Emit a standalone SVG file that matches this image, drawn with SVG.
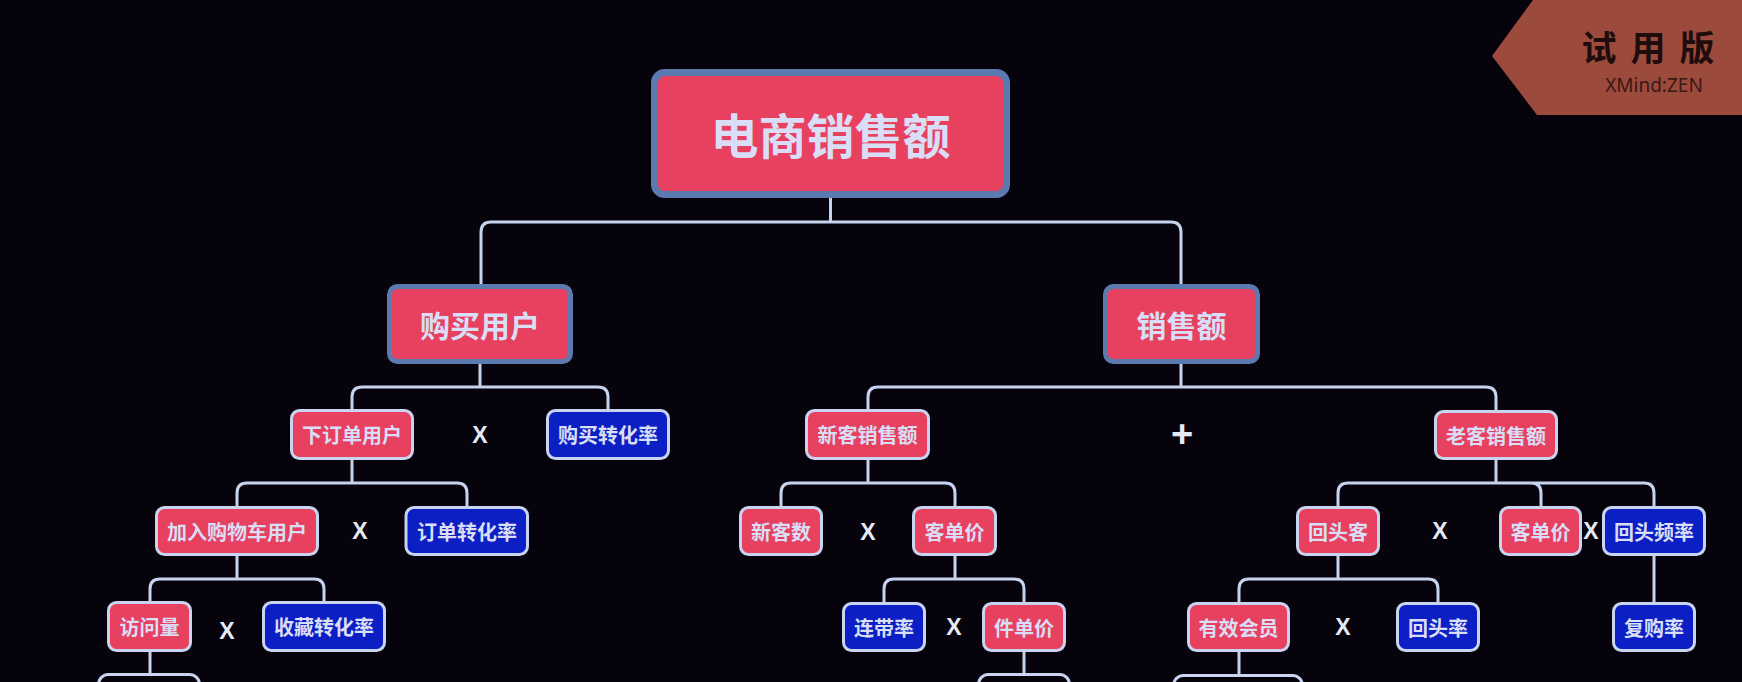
<svg xmlns="http://www.w3.org/2000/svg" width="1742" height="682" viewBox="0 0 1742 682">
<style>
.t{font-family:"Noto Sans CJK SC","Noto Sans",sans-serif;font-weight:bold;fill:#d9def6;text-anchor:middle;dominant-baseline:central}
.red{fill:#e8405f}
.blue{fill:#0b1fc4}
.sm{stroke:#c9d4f0;stroke-width:3}
.big{stroke:#5a7ab0}
.ts{font-size:20px}
.op{font-family:"Liberation Sans","DejaVu Sans",sans-serif;font-weight:bold;fill:#e6e9f6;text-anchor:middle;dominant-baseline:central;font-size:23px}
.cn{fill:none;stroke:#c5d3ee;stroke-width:3}
</style>
<rect width="1742" height="682" fill="#07030c"/>
<g id="watermark">
<polygon points="1533,0 1742,0 1742,115 1537,115 1492,56" fill="#9c4a3c"/>
<text x="1655" y="45" font-family="Noto Sans CJK SC,sans-serif" font-weight="bold" font-size="35" fill="#1e0d0c" text-anchor="middle" dominant-baseline="central" letter-spacing="14">试用版</text>
<text x="1654" y="85" font-family="Noto Sans,sans-serif" font-size="19" fill="#3b1814" text-anchor="middle" dominant-baseline="central">XMind:ZEN</text>
</g>
<g id="connectors">
<path class="cn" d="M830.5 198V222M481 284V232Q481 222 491 222H1171Q1181 222 1181 232V284"/>
<path class="cn" d="M480 364V387M352 409V397Q352 387 362 387H598Q608 387 608 397V409"/>
<path class="cn" d="M352 460V483M237 506V493Q237 483 247 483H457Q467 483 467 493V506"/>
<path class="cn" d="M237 556V579M150 601V589Q150 579 160 579H314Q324 579 324 589V601"/>
<path class="cn" d="M150 652V674"/>
<path class="cn" d="M1181 364V387M868 409V397Q868 387 878 387H1486Q1496 387 1496 397V410"/>
<path class="cn" d="M868 460V483M781 506V493Q781 483 791 483H945Q955 483 955 493V506"/>
<path class="cn" d="M955 556V579M884 602V589Q884 579 894 579H1014Q1024 579 1024 589V602"/>
<path class="cn" d="M1024 652V674"/>
<path class="cn" d="M1496 460V483M1338 506V493Q1338 483 1348 483H1644Q1654 483 1654 493V506M1531 483Q1541 483 1541 493V506"/>
<path class="cn" d="M1338 556V579M1239 602V589Q1239 579 1249 579H1428Q1438 579 1438 589V602"/>
<path class="cn" d="M1239 652V675"/>
<path class="cn" d="M1654 556V602"/>
</g>
<g id="root">
<rect class="red big" x="654.5" y="72.5" width="352" height="122" rx="10" stroke-width="7"/>
<text class="t" x="830.5" y="133" font-size="48">电商销售额</text>
</g>
<g id="n-goumaiyonghu">
<rect class="red big" x="389.5" y="286.5" width="181" height="75" rx="8" stroke-width="5"/>
<text class="t" x="480" y="324" font-size="30">购买用户</text>
</g>
<g id="n-xiaoshoue">
<rect class="red big" x="1105.5" y="286.5" width="152" height="75" rx="8" stroke-width="5"/>
<text class="t" x="1181.5" y="324" font-size="30">销售额</text>
</g>
<g id="n-xiadingdan">
<rect class="red sm" x="291.5" y="410.5" width="121" height="48" rx="8"/>
<text class="t ts" x="352" y="434.5">下订单用户</text>
</g>
<g id="op1"><text class="op" x="480" y="435">X</text></g>
<g id="n-goumaizhuanhua">
<rect class="blue sm" x="547.5" y="410.5" width="121" height="48" rx="8"/>
<text class="t ts" x="608" y="434.5">购买转化率</text>
</g>
<g id="n-jiaru">
<rect class="red sm" x="156.5" y="507.5" width="161" height="47" rx="8"/>
<text class="t ts" x="237" y="531">加入购物车用户</text>
</g>
<g id="op2"><text class="op" x="360" y="531">X</text></g>
<g id="n-dingdanzhuanhua">
<rect class="blue sm" x="406" y="507.5" width="121.5" height="47" rx="8"/>
<text class="t ts" x="467" y="531">订单转化率</text>
</g>
<g id="n-fangwen">
<rect class="red sm" x="108.5" y="602.5" width="82" height="48" rx="8"/>
<text class="t ts" x="149.5" y="626.5">访问量</text>
</g>
<g id="op3"><text class="op" x="227" y="631">X</text></g>
<g id="n-shoucang">
<rect class="blue sm" x="263.5" y="602.5" width="121" height="48" rx="8"/>
<text class="t ts" x="324" y="626.5">收藏转化率</text>
</g>
<g id="n-partial1">
<rect class="sm" fill="#07030c" x="98.5" y="674.5" width="101" height="40" rx="10"/>
</g>
<g id="n-xinke">
<rect class="red sm" x="806.5" y="410.5" width="122" height="48" rx="8"/>
<text class="t ts" x="867.5" y="434.5">新客销售额</text>
</g>
<g id="op-plus"><text class="op" x="1182" y="434" style="font-size:38px">+</text></g>
<g id="n-laoke">
<rect class="red sm" x="1435.5" y="411.5" width="121" height="47" rx="8"/>
<text class="t ts" x="1496" y="435">老客销售额</text>
</g>
<g id="n-xinkeshu">
<rect class="red sm" x="740.5" y="507.5" width="81" height="47" rx="8"/>
<text class="t ts" x="781" y="531">新客数</text>
</g>
<g id="op4"><text class="op" x="868" y="532">X</text></g>
<g id="n-kedanjia1">
<rect class="red sm" x="913.5" y="507.5" width="82" height="47" rx="8"/>
<text class="t ts" x="954.5" y="531">客单价</text>
</g>
<g id="n-liandai">
<rect class="blue sm" x="843.5" y="603.5" width="81" height="47" rx="8"/>
<text class="t ts" x="884" y="627">连带率</text>
</g>
<g id="op5"><text class="op" x="954" y="627">X</text></g>
<g id="n-jiandanjia">
<rect class="red sm" x="983.5" y="603.5" width="81" height="47" rx="8"/>
<text class="t ts" x="1024" y="627">件单价</text>
</g>
<g id="n-partial2">
<rect class="sm" fill="#07030c" x="978.5" y="674.5" width="91" height="40" rx="10"/>
</g>
<g id="n-huitouke">
<rect class="red sm" x="1297.5" y="507.5" width="81" height="47" rx="8"/>
<text class="t ts" x="1338" y="531">回头客</text>
</g>
<g id="op6"><text class="op" x="1440" y="531">X</text></g>
<g id="n-kedanjia2">
<rect class="red sm" x="1500.5" y="507.5" width="80" height="47" rx="8"/>
<text class="t ts" x="1540.5" y="531">客单价</text>
</g>
<g id="op7"><text class="op" x="1591" y="531">X</text></g>
<g id="n-huitoupinlv">
<rect class="blue sm" x="1603.5" y="507.5" width="101" height="47" rx="8"/>
<text class="t ts" x="1654" y="531">回头频率</text>
</g>
<g id="n-youxiao">
<rect class="red sm" x="1188.5" y="603.5" width="100" height="47" rx="8"/>
<text class="t ts" x="1238.5" y="627">有效会员</text>
</g>
<g id="op8"><text class="op" x="1343" y="627">X</text></g>
<g id="n-huitoulv">
<rect class="blue sm" x="1397.5" y="603.5" width="81" height="47" rx="8"/>
<text class="t ts" x="1438" y="627">回头率</text>
</g>
<g id="n-fugou">
<rect class="blue sm" x="1613.5" y="603.5" width="81" height="47" rx="8"/>
<text class="t ts" x="1654" y="627">复购率</text>
</g>
<g id="n-partial3">
<rect class="sm" fill="#07030c" x="1173.5" y="675.5" width="129" height="40" rx="10"/>
</g>
</svg>
